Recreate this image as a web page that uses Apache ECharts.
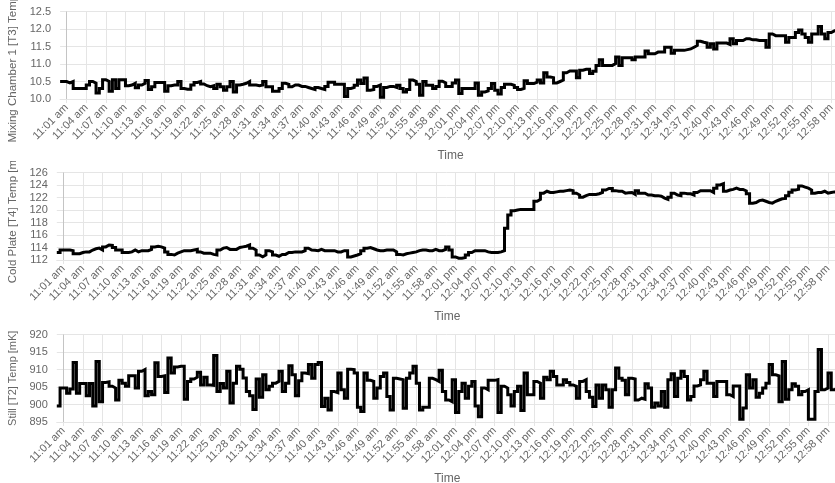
<!DOCTYPE html>
<html>
<head>
<meta charset="utf-8">
<script src="https://cdn.jsdelivr.net/npm/echarts@6/dist/echarts.min.js"></script>
<style>
  html, body { margin: 0; padding: 0; background: #fff; overflow: hidden; }
  .panel { position: absolute; left: 0; width: 835px; overflow: hidden; }
</style>
</head>
<body>
<div id="p1" class="panel" style="top:0;height:161px"></div>
<div id="p2" class="panel" style="top:161px;height:162px"></div>
<div id="p3" class="panel" style="top:323px;height:160px"></div>
<script>
// ---- data (30 s samples starting 11:00:00) ----
const START_MIN = 660;   // 11:00
const STEP_MIN = 0.5;    // 30 seconds

const TICK_LABELS = [
  '11:01 am','11:04 am','11:07 am','11:10 am','11:13 am','11:16 am','11:19 am','11:22 am','11:25 am','11:28 am',
  '11:31 am','11:34 am','11:37 am','11:40 am','11:43 am','11:46 am','11:49 am','11:52 am','11:55 am','11:58 am',
  '12:01 pm','12:04 pm','12:07 pm','12:10 pm','12:13 pm','12:16 pm','12:19 pm','12:22 pm','12:25 pm','12:28 pm',
  '12:31 pm','12:34 pm','12:37 pm','12:40 pm','12:43 pm','12:46 pm','12:49 pm','12:52 pm','12:55 pm','12:58 pm'
];

const mixingChamberT3 = [
  10.5,10.5,10.46,10.5,10.3,10.3,10.3,10.3,10.4,10.5,
  10.45,10.17,10.3,10.55,10.5,10.22,10.55,10.3,10.55,10.55,
  10.38,10.4,10.45,10.32,10.4,10.45,10.53,10.27,10.35,10.47,
  10.47,10.47,10.22,10.38,10.4,10.4,10.5,10.3,10.28,10.28,
  10.4,10.47,10.5,10.43,10.38,10.35,10.38,10.3,10.42,10.35,
  10.25,10.35,10.5,10.2,10.4,10.42,10.45,10.5,10.4,10.4,
  10.38,10.4,10.5,10.35,10.35,10.22,10.22,10.3,10.45,10.42,
  10.35,10.4,10.4,
  10.36,10.36,10.33,10.3,10.27,10.33,10.3,10.27,10.36,10.48,
  10.48,10.42,10.42,10.42,10.07,10.3,10.33,10.39,10.54,10.44,
  10.6,10.25,10.27,10.36,10.4,10.05,10.33,10.36,10.36,10.33,
  10.39,10.3,10.2,10.27,10.54,10.5,10.42,10.11,10.5,10.39,
  10.39,10.3,10.36,10.51,10.46,10.36,10.36,10.46,10.54,10.16,
  10.3,10.3,10.3,10.3,10.46,10.11,10.2,10.23,10.3,10.44,
  10.25,10.14,10.33,10.42,10.42,10.39,10.33,10.27,10.3,10.52,
  10.44,10.44,10.48,10.54,10.46,10.75,10.63,
  10.61,10.46,10.5,10.54,10.75,10.8,10.8,10.8,10.61,10.82,
  10.85,10.85,10.73,10.79,10.96,11.12,10.96,10.96,10.96,11.01,
  11.2,10.96,11.18,11.18,11.18,11.12,11.2,11.2,11.2,11.37,
  11.29,11.29,11.34,11.34,11.34,11.48,11.48,11.31,11.39,11.39,
  11.39,11.41,11.43,11.48,11.53,11.65,11.62,11.6,11.48,11.58,
  11.43,11.6,11.6,11.6,11.56,11.72,11.58,11.67,11.67,11.72,
  11.72,11.69,11.69,11.67,11.67,11.67,11.48,11.86,11.81,11.81,
  11.81,11.81,11.62,11.76,11.76,11.9,11.97,11.86,11.76,11.62,
  11.86,11.86,12.07,11.86,11.72,11.9,11.95,11.95,11.97,11.97
];

const coldPlateT4 = [
  113.2,113.6,113.6,113.6,113.5,113.0,113.0,113.2,113.3,113.3,
  113.6,113.8,113.9,113.6,114.1,114.4,114.35,114.0,113.6,113.6,
  113.2,113.2,113.3,113.6,113.3,113.5,113.5,113.5,113.7,114.1,
  114.2,114.1,113.9,113.3,112.9,112.8,113.1,113.3,113.5,113.5,
  113.5,113.6,113.7,113.3,113.1,113.1,113.1,112.9,112.8,113.6,
  113.9,114.0,113.7,113.7,113.7,114.0,114.1,114.2,114.4,113.9,
  113.6,112.8,112.5,112.8,113.5,113.3,112.8,112.6,112.9,112.9,
  113.2,113.2,113.3,113.3,
  113.3,113.5,113.9,113.6,113.55,113.5,113.7,113.5,113.5,113.5,
  113.5,113.3,113.3,113.5,113.5,112.5,112.65,112.8,113.0,113.5,
  113.9,114.0,113.8,113.6,113.5,113.5,113.6,113.6,113.6,113.3,
  112.9,112.8,113.0,113.1,113.2,113.3,113.5,113.6,113.6,113.5,
  113.5,113.7,113.5,113.5,113.7,114.1,113.6,112.5,112.3,112.3,
  112.4,112.8,113.2,113.5,113.5,113.5,113.5,113.3,113.2,113.2,
  113.2,113.3,113.5,117.1,119.2,119.9,120.0,120.1,120.1,120.1,
  120.1,120.1,121.4,121.7,122.7,123.0,122.8,
  122.8,122.9,123.0,123.0,123.1,123.2,123.1,122.7,122.4,
  122.05,122.3,122.5,122.5,122.5,122.6,122.8,123.2,123.45,123.45,
  123.1,123.0,123.0,122.7,122.75,122.8,122.5,123.1,122.7,122.7,
  122.4,122.4,122.3,122.3,122.2,121.9,121.7,122.05,122.7,122.4,
  122.3,122.7,122.6,122.6,122.4,122.8,123.1,123.1,123.1,123.1,
  122.8,123.5,124.0,124.2,123.0,123.2,123.3,123.5,123.3,123.3,
  123.05,122.6,121.1,121.2,121.5,121.6,121.4,121.2,121.1,121.4,
  121.6,121.8,121.85,122.3,122.85,123.2,123.3,123.85,123.65,123.5,
  123.2,122.7,122.8,122.8,123.0,122.7,122.8,122.9,122.9,122.9
];

const stillT2 = [
  899.6,904.7,904.7,903.2,904.4,912.0,903.2,906.0,906.0,902.5,
  906.0,899.6,912.3,900.8,906.3,906.5,905.2,904.7,901.3,906.9,
  906.1,905.2,908.2,908.2,904.7,909.5,910.0,902.5,903.7,902.8,
  911.9,908.0,908.2,903.4,913.3,909.0,910.7,910.9,910.9,901.5,
  906.6,907.3,907.8,909.2,905.6,907.8,905.6,905.5,914.0,903.7,
  906.0,904.7,909.5,900.4,906.1,910.9,910.1,907.6,903.7,902.5,
  898.6,907.3,902.1,908.5,904.2,905.2,906.1,906.6,909.5,903.7,
  906.1,911.1,908.5,902.5,
  906.8,909.0,908.8,911.4,907.5,911.4,912.0,899.4,901.8,898.4,
  903.7,903.4,909.0,904.2,901.8,910.1,910.0,909.0,899.2,898.0,
  909.0,906.9,906.6,901.8,904.7,908.0,909.0,902.3,898.4,907.5,
  907.3,907.1,898.9,907.5,909.0,910.9,906.1,898.4,899.2,899.2,
  907.5,907.1,906.6,909.8,903.7,901.3,900.8,907.1,897.7,903.7,
  906.1,901.8,905.2,906.6,899.6,896.5,904.7,904.2,906.9,906.9,
  907.1,897.7,905.2,904.7,902.8,899.6,903.7,905.2,898.3,909.0,
  902.8,902.8,906.6,906.1,901.8,907.8,907.1,
  909.5,908.0,905.6,905.6,907.1,906.3,905.6,905.2,901.8,
  906.6,907.1,903.7,902.1,899.4,905.6,901.8,905.6,904.2,899.2,
  904.2,910.4,907.5,906.9,902.8,907.5,907.3,901.3,901.8,901.5,
  905.9,904.7,899.2,900.4,899.6,903.7,899.2,907.1,908.8,902.3,
  907.5,909.5,908.0,901.3,902.3,905.3,905.6,907.1,909.5,906.1,
  906.1,902.3,906.6,906.6,906.6,902.8,902.3,905.3,905.3,895.8,
  899.0,908.5,904.7,907.1,902.1,903.2,904.7,906.1,911.4,908.5,
  908.2,900.8,912.3,901.5,904.2,905.9,905.2,902.8,903.7,904.2,
  895.8,895.8,903.7,915.7,904.2,904.7,909.0,904.2,904.7,904.7
];

// ---- helpers ----
function timeKey(m) {
  const h = Math.floor(m / 60), mm = Math.floor(m % 60), ss = Math.round((m % 1) * 60);
  return String(h).padStart(2, '0') + ':' + String(mm).padStart(2, '0') + ':' + String(ss).padStart(2, '0');
}
function shortLabel(key) {
  const [h, mm] = key.split(':').map(Number);
  const h12 = h > 12 ? h - 12 : h;
  return h12 + ':' + String(mm).padStart(2, '0') + ' ' + (h >= 12 ? 'pm' : 'am');
}
const categories = mixingChamberT3.map((_, i) => timeKey(START_MIN + i * STEP_MIN));
const isTick = (idx) => {
  const key = categories[idx];
  return key.endsWith(':00') && TICK_LABELS.indexOf(shortLabel(key)) >= 0;
};
const FIRST_TICK = categories.find((c, i) => isTick(i));

const FONT = '"Helvetica Neue", Helvetica, Arial, "Liberation Sans", sans-serif';
const GRID_COLOR = '#e5e5e5';
const TEXT_COLOR = '#666';

function makePanel(elId, cfg) {
  const chart = echarts.init(document.getElementById(elId), null, { renderer: 'canvas' });
  chart.setOption({
    animation: false,
    backgroundColor: '#fff',
    textStyle: { fontFamily: FONT },
    grid: { left: cfg.left, top: 11.5, width: 781, height: 87.5, outerBoundsMode: 'none', containLabel: false },
    xAxis: {
      type: 'category',
      data: categories,
      boundaryGap: false,
      name: 'Time',
      nameLocation: 'middle',
      nameGap: 49,
      nameTextStyle: { color: TEXT_COLOR, fontSize: 12, fontFamily: FONT },
      axisLine: { show: true, lineStyle: { color: GRID_COLOR, width: 1 } },
      axisTick: { show: true, interval: isTick, length: 4, lineStyle: { color: GRID_COLOR } },
      splitLine: { show: true, interval: isTick, lineStyle: { color: GRID_COLOR, width: 1 } },
      axisLabel: {
        interval: isTick,
        rotate: 45,
        margin: 7,
        color: TEXT_COLOR,
        fontSize: 11,
        fontFamily: FONT,
        formatter: (v) => shortLabel(v)
      }
    },
    yAxis: {
      type: 'value',
      min: cfg.min, max: cfg.max, interval: cfg.interval,
      name: cfg.name,
      nameLocation: 'middle',
      nameGap: cfg.nameGap,
      nameTextStyle: { color: TEXT_COLOR, fontSize: cfg.nameSize, fontFamily: FONT },
      axisLine: { show: false },
      axisTick: { show: false },
      splitLine: { show: true, lineStyle: { color: GRID_COLOR, width: 1 } },
      axisLabel: {
        color: TEXT_COLOR, fontSize: 11, fontFamily: FONT, margin: 9,
        formatter: cfg.fmt
      }
    },
    series: [{
      type: 'line',
      data: cfg.data,
      step: 'end',
      symbol: 'none',
      lineStyle: { color: '#000', width: 3, join: 'miter' },
      silent: true,
      z: 3,
      markLine: {
        silent: true,
        symbol: 'none',
        label: { show: false },
        lineStyle: { color: '#c4c4c4', type: 'solid', width: 1 },
        z: 1,
        data: [{ xAxis: FIRST_TICK }]
      }
    }]
  });
}

makePanel('p1', {
  left: 60.1, min: 10, max: 12.5, interval: 0.5, nameGap: 37, nameSize: 11.5,
  name: 'Mixing Chamber 1 [T3] Temp [mK]', data: mixingChamberT3,
  fmt: (v) => v.toFixed(1)
});
makePanel('p2', {
  left: 56.8, min: 112, max: 126, interval: 2, nameGap: 34, nameSize: 11.5,
  name: 'Cold Plate [T4] Temp [mK]', data: coldPlateT4,
  fmt: (v) => String(v)
});
makePanel('p3', {
  left: 56.8, min: 895, max: 920, interval: 5, nameGap: 34, nameSize: 11,
  name: 'Still [T2] Temp [mK]', data: stillT2,
  fmt: (v) => String(v)
});
</script>
</body>
</html>
